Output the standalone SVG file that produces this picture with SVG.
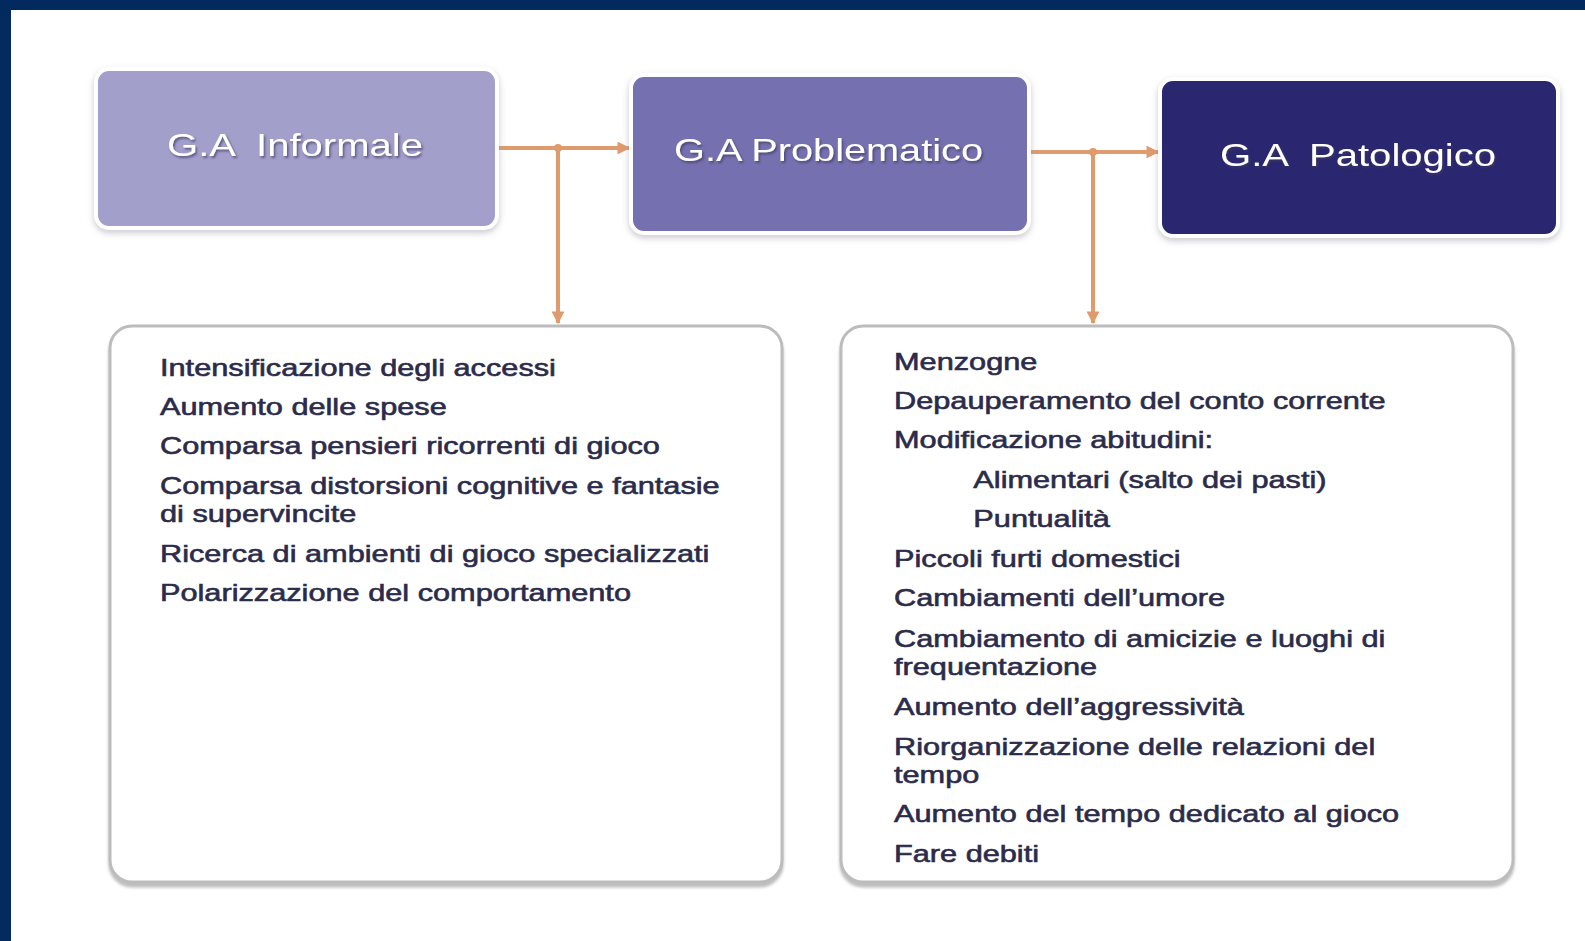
<svg xmlns="http://www.w3.org/2000/svg" width="1585" height="941" viewBox="0 0 1585 941">
<defs>
<style>
.hdr{font-family:"Liberation Sans",Arial,sans-serif;font-size:32px;fill:#ffffff;white-space:pre;filter:url(#tshadow)}
.item{font-family:"Liberation Sans",Arial,sans-serif;font-size:24px;fill:#2b2b4a;stroke:#2b2b4a;stroke-width:0.6}
.conn{stroke:#df9b6e;stroke-width:4;fill:none}
.topbox{stroke:#ffffff;stroke-width:4;filter:url(#bshadow)}
.listbox{fill:#ffffff;stroke:#bcbcbc;stroke-width:3;filter:url(#lshadow)}
</style>
<filter id="tshadow" x="-10%" y="-30%" width="120%" height="160%">
<feDropShadow dx="1.5" dy="2" stdDeviation="1" flood-color="#3a3760" flood-opacity="0.7"/>
</filter>
<filter id="bshadow" x="-5%" y="-10%" width="110%" height="125%">
<feDropShadow dx="0" dy="3" stdDeviation="3" flood-color="#8a8a9a" flood-opacity="0.45"/>
</filter>
<filter id="lshadow" x="-5%" y="-5%" width="110%" height="110%">
<feDropShadow dx="0" dy="4" stdDeviation="1.5" flood-color="#909090" flood-opacity="0.6"/>
</filter>
<marker id="arr" viewBox="0 0 10 10" refX="9" refY="5" markerWidth="3.2" markerHeight="3.2" orient="auto" markerUnits="strokeWidth">
<path d="M0,0 L10,5 L0,10 z" fill="#df9b6e"/>
</marker>
</defs>
<rect x="0" y="0" width="1585" height="941" fill="#ffffff"/>
<rect x="0" y="0" width="1585" height="10" fill="#022a5e"/>
<rect x="0" y="0" width="11" height="941" fill="#022a5e"/>

<g id="connectors">
<line class="conn" x1="497" y1="148" x2="629" y2="148" marker-end="url(#arr)"/>
<line class="conn" x1="558" y1="148" x2="558" y2="323" marker-end="url(#arr)"/>
<circle cx="558" cy="148" r="4" fill="#df9b6e"/>
<line class="conn" x1="1029" y1="152" x2="1158" y2="152" marker-end="url(#arr)"/>
<line class="conn" x1="1093" y1="152" x2="1093" y2="323" marker-end="url(#arr)"/>
<circle cx="1093" cy="152" r="4" fill="#df9b6e"/>
</g>

<g id="node-informale">
<rect class="topbox" x="96" y="69" width="401" height="159" rx="13" fill="#a39fcb"/>
<text class="hdr" x="167" y="156" textLength="256" lengthAdjust="spacingAndGlyphs">G.A  Informale</text>
</g>

<g id="node-problematico">
<rect class="topbox" x="631" y="75" width="398" height="158" rx="13" fill="#7471b0"/>
<text class="hdr" x="674" y="161" textLength="309" lengthAdjust="spacingAndGlyphs">G.A Problematico</text>
</g>

<g id="node-patologico">
<rect class="topbox" x="1160" y="79" width="398" height="157" rx="13" fill="#29276f"/>
<text class="hdr" x="1220" y="166" textLength="276" lengthAdjust="spacingAndGlyphs">G.A  Patologico</text>
</g>

<g id="node-lista-problematico">
<rect class="listbox" x="110" y="326" width="672" height="556" rx="22"/>
<g transform="translate(160 0) scale(1.28 1)">
<text class="item" x="0" y="376">Intensificazione degli accessi</text>
<text class="item" x="0" y="415">Aumento delle spese</text>
<text class="item" x="0" y="454">Comparsa pensieri ricorrenti di gioco</text>
<text class="item" x="0" y="494">Comparsa distorsioni cognitive e fantasie</text>
<text class="item" x="0" y="522">di supervincite</text>
<text class="item" x="0" y="562">Ricerca di ambienti di gioco specializzati</text>
<text class="item" x="0" y="601">Polarizzazione del comportamento</text>
</g>
</g>

<g id="node-lista-patologico">
<rect class="listbox" x="841" y="326" width="672" height="556" rx="22"/>
<g transform="translate(894 0) scale(1.28 1)">
<text class="item" x="0" y="370">Menzogne</text>
<text class="item" x="0" y="409">Depauperamento del conto corrente</text>
<text class="item" x="0" y="448">Modificazione abitudini:</text>
<text class="item" x="62" y="488">Alimentari (salto dei pasti)</text>
<text class="item" x="62" y="527">Puntualità</text>
<text class="item" x="0" y="567">Piccoli furti domestici</text>
<text class="item" x="0" y="606">Cambiamenti dell’umore</text>
<text class="item" x="0" y="647">Cambiamento di amicizie e luoghi di</text>
<text class="item" x="0" y="675">frequentazione</text>
<text class="item" x="0" y="715">Aumento dell’aggressività</text>
<text class="item" x="0" y="755">Riorganizzazione delle relazioni  del</text>
<text class="item" x="0" y="783">tempo</text>
<text class="item" x="0" y="822">Aumento del tempo dedicato al gioco</text>
<text class="item" x="0" y="862">Fare debiti</text>
</g>
</g>
</svg>
